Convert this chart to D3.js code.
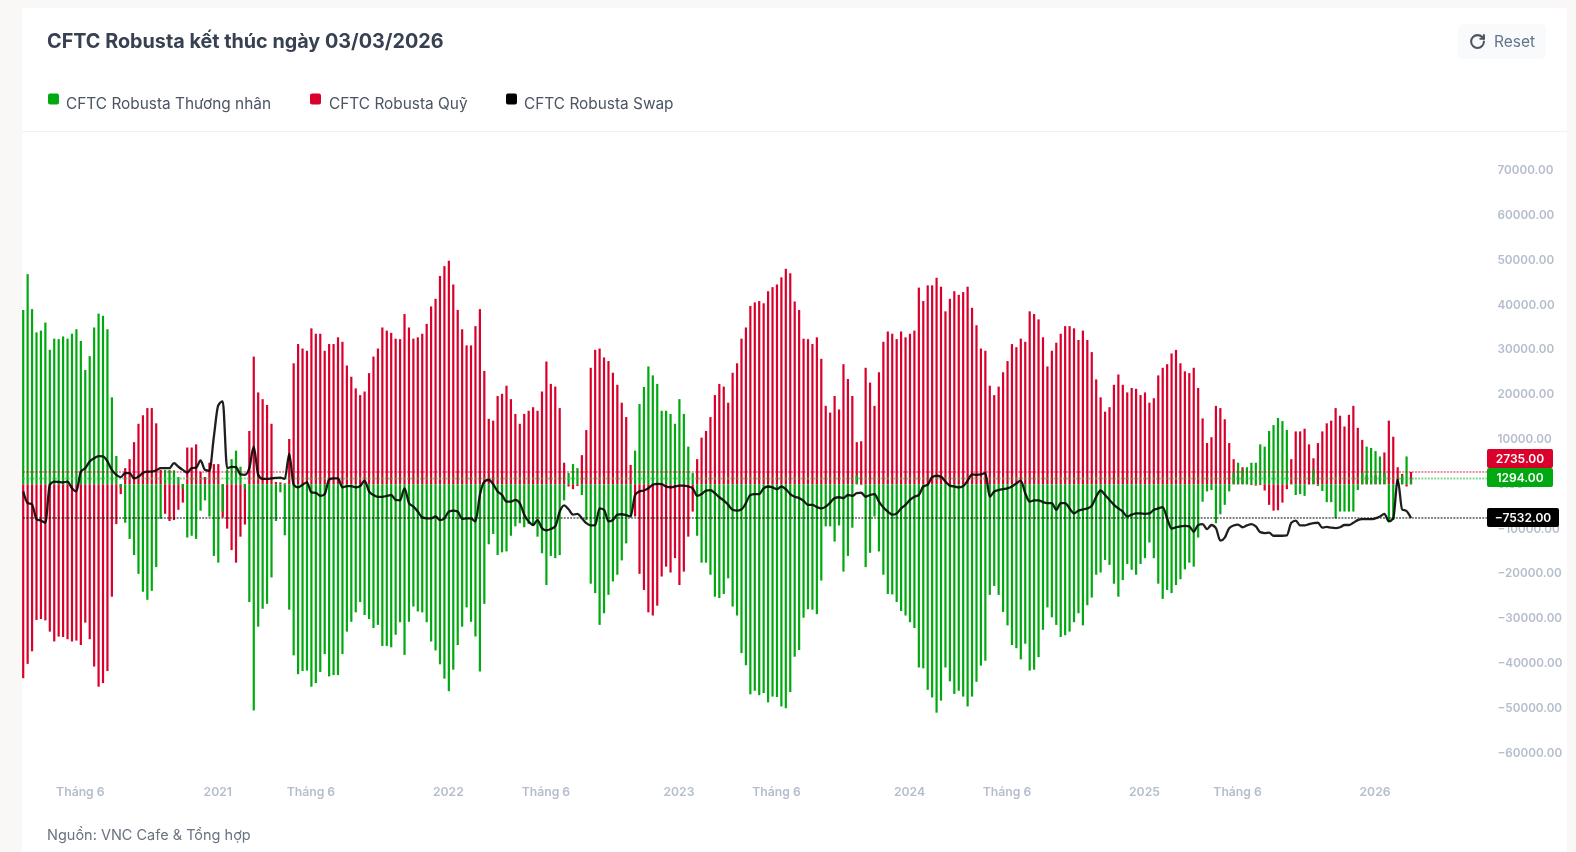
<!DOCTYPE html>
<html lang="vi">
<head>
<meta charset="utf-8">
<title>CFTC Robusta</title>
<script src="https://cdn.jsdelivr.net/npm/d3@7/dist/d3.min.js"></script>
<style>
html,body{margin:0;padding:0;background:#f9f8f6;overflow:hidden;}
svg{display:block;filter:blur(0.4px);}
text{font-family:Inter,"Noto Sans",sans-serif;}
</style>
</head>
<body>
<svg id="chart" width="1576" height="852"></svg>
<script>
const chartTitle = "CFTC Robusta kết thúc ngày 03/03/2026";
const sourceNote = "Nguồn: VNC Cafe & Tổng hợp";
const seriesNames = ["CFTC Robusta Thương nhân","CFTC Robusta Quỹ","CFTC Robusta Swap"];
const seriesColors = ["#00a90f","#d9002c","#000000"];
const firstDate = new Date(2020,2,3);
const yTicks = [70000,60000,50000,40000,30000,20000,10000,0,-10000,-20000,-30000,-40000,-50000,-60000];
const xTicks = [[2020,5,"Tháng 6"],[2021,0,"2021"],[2021,5,"Tháng 6"],[2022,0,"2022"],[2022,5,"Tháng 6"],[2023,0,"2023"],[2023,5,"Tháng 6"],[2024,0,"2024"],[2024,5,"Tháng 6"],[2025,0,"2025"],[2025,5,"Tháng 6"],[2026,0,"2026"]];

const commercial = [
38900,46900,39100,33900,34300,36100,30000,32500,32400,33000,32500,33600,34600,32000,25500,28600,35000,38100,37600,34600,19400,6300,-800,
-8600,-12200,-15800,-20000,-24000,-25800,-23800,-18500,-7700,3200,3200,3100,1600,-1000,-11900,-11500,-12200,-5900,-3600,-7200,-16000,-17500,-6100,3300,5600,7500,3900,-1100,
-26300,-50500,-31800,-27800,-26700,-20800,-8200,-1800,-11400,-28000,-38200,-42400,-41700,-41600,-45200,-44400,-41900,-37900,-42900,-42600,-42600,-37900,-32900,-30700,-28600,-26300,-29200,-30100,-32100,-31400,-36100,-36100,-36400,-33600,-30800,
-38100,-30700,-27300,-28400,-28600,-30800,-35100,-37100,-40200,-43400,-46200,-41400,-35900,-31800,-27500,-30700,-34000,-41800,-26700,-13400,-11100,-15800,-15200,-15000,-11500,-9400,-8700,-9600,-8900,-9100,-11700,-15400,-22500,-16000,-16500,-15800,-3600,
2500,4500,3600,-2400,-8000,-22200,-24300,-31400,-28800,-24700,-21700,-20200,-17000,-13200,-7200,
7500,17900,21700,26300,24300,22400,16400,16400,15700,13500,19000,15700,8400,2500,
-11500,-17500,-17500,-20200,-25100,-25400,-24500,-21000,-27300,-29300,-37700,-40400,-46900,-46100,-47100,-46600,-48700,-47400,-47500,-49600,-50000,-46400,-38500,-37000,
-29800,-27900,-28000,-29000,-21500,-9400,-9400,-12800,-9200,-19500,-16000,-9700,2000,-200,-18500,-15300,-7200,-15000,-20200,-24500,-24600,-26300,-28300,-29300,-30800,-32100,-40900,-41100,-45900,-47600,-51000,-48300,-40900,-44000,-46800,-46100,-47400,-49600,-47400,-44100,-40500,-39400,-24700,-22700,-24700,-28500,-31500,-35900,-36600,-39100,-35600,-41600,-41400,-38600,-32500,-27500,-29700,-31400,-34100,-33700,-32900,-30800,-28800,-31500,-27000,-25300,-20200,-19700,-16900,-18000,-22200,-25100,-21400,-17800,-19100,-20200,-17800,-16500,-13000,-16500,-22200,-25600,-23600,-24300,-22500,-21200,-19000,-17500,-18400,-11900,
-3900,-1600,-1300,-8700,-6700,-4600,-1600,2600,4800,3300,3800,4800,4800,8900,8400,11900,13200,14800,14100,12100,200,-2400,-2200,-2600,-100,3300,-400,-1500,-4000,-4000,-7600,-6100,-6100,-6100,-6100,-1300,2600,8400,8100,7400,6200,2600,-8300,-8000,1000,2000,6200,1294
];

const funds = [
-43300,-40100,-37300,-30300,-30100,-30400,-32900,-35100,-34000,-34100,-34600,-35100,-34900,-35900,-30900,-34600,-40700,-45200,-44400,-41700,-25100,-8900,-2200,
3600,5600,9400,13500,15400,17000,17000,13600,3200,-6600,-8200,-8000,-5700,-4100,8200,8200,8900,2800,1600,4800,4500,4500,-7400,-9900,-14700,-17500,-11700,-9000,
11900,28500,20500,19000,17700,13500,500,400,200,10100,27000,31300,30300,29800,34800,33600,33600,29800,31300,31300,32800,31800,26500,24000,21400,19900,20700,24800,28500,30300,35000,34300,33800,32500,32400,
38000,35000,32500,32800,33600,35800,39700,41400,46500,48700,49900,44600,38900,34600,31000,31000,35300,39100,25300,14600,14200,19700,20200,22000,19000,15700,13500,15700,16400,17200,16400,20700,27400,22400,21800,17000,4800,
-500,-1100,-400,6500,12100,26000,30000,30300,28300,27500,24900,22200,18200,15000,4300,
-7200,-20000,-23600,-28600,-29300,-27100,-20600,-18400,-19700,-16500,-22500,-19500,-11700,-6100,
5600,10400,11900,15000,19900,22400,21800,18200,24900,27000,32500,35000,39800,40600,40900,40400,43100,44000,44600,46200,48100,47100,40800,38900,
32500,32400,31300,32800,28000,17500,16000,19700,16700,26800,23500,19700,9400,9600,26000,22700,17500,25000,31800,34100,33600,32400,34100,32800,33600,34300,43900,40900,44400,44400,46100,44100,38600,41400,43100,42300,42900,44100,39400,35500,30300,29800,22000,19900,21800,25000,27500,31300,30600,32500,31800,38600,38000,36800,32800,26300,29800,31600,33600,35300,35300,34800,32200,34300,32200,29500,23400,19400,16200,17200,22200,24500,22200,20500,21500,21300,19900,20500,18200,19200,24300,26000,26800,29200,30000,27000,25200,24800,26000,21500,
14700,9200,10500,17500,17000,14500,9200,5600,1000,3800,1000,-200,-300,-200,-1400,-4600,-5900,-5800,-4100,-1100,5600,11800,11800,12400,8900,5800,9200,11800,13600,14200,17000,15300,12900,15500,17500,12600,9900,2000,2000,2000,2000,7100,14200,10600,3800,2300,-500,2735
];

const swap = [
-1600,-4200,-4500,-7800,-8100,-8600,-100,600,500,400,600,-900,-1600,2800,3600,5100,5800,6300,6200,5100,3200,2100,1600,2500,2500,1300,1700,2500,2800,2800,3100,3600,3600,3600,4700,3900,3200,2600,3600,3700,5300,3200,3000,10600,17600,18500,3600,3900,3800,2200,2100,3600,8400,2100,1200,1200,1300,1400,1500,1200,6800,-100,-700,-100,400,-1800,-1900,-2600,-2200,1100,1300,1300,-700,-400,-400,-700,-400,800,-1600,-2400,-2800,-2800,-2600,-2400,-3500,-3600,
-900,-4200,-5000,-6100,-7400,-7600,-7600,-7200,-8000,-7600,-6100,-5900,-6100,-7700,-7600,-7600,-8300,-2400,600,1000,0,-1600,-2400,-3900,-3900,-3500,-4200,-6800,-8300,-9100,-8000,-9800,-10300,-10000,-9400,-6100,-4700,-5600,-6800,-6600,-7600,-8700,-9200,-9100,-5400,-5700,-8300,-8000,-6800,-6700,-6900,-7200,-2400,-1600,-1400,-900,-100,100,0,-500,-700,-500,-300,-300,-500,-900,-2600,-2200,-1400,-1300,-2000,-2900,-3600,-4600,-5700,-5900,-5600,-4200,-2400,-2200,-2200,-900,-500,-700,-1100,-500,-1100,-2200,-2800,-3100,
-3700,-4600,-4600,-5100,-5400,-5000,-4100,-3100,-2900,-3100,-2400,-2600,-2000,-1900,-2800,-2400,-2200,-3900,-5200,-6100,-6800,-6500,-5400,-4600,-3500,-2800,-2400,-500,-100,1600,1900,1700,600,-300,-500,-700,-400,800,2200,2100,2200,2500,-2800,-1600,-1300,-1100,-900,-500,200,800,-2000,-3900,-3600,-3600,-4000,-4200,-4200,-5700,-4200,-4200,-5400,-6500,-5900,-5600,-5400,-4800,-2800,-1400,-2400,-3500,-4600,-5400,-6100,-7200,-6800,-6500,-6500,-6600,-6500,-5700,-5400,-5100,-7600,-9900,-9600,-9400,-9300,-9400,-10600,-9100,
-8900,-10000,-9100,-9800,-12600,-11900,-9800,-9200,-9000,-9600,-9200,-8900,-9400,-10700,-10900,-10800,-11500,-11500,-11500,-11400,-8600,-8100,-9200,-9200,-8900,-8700,-8600,-9700,-9500,-9700,-9800,-9600,-9100,-9100,-8600,-8000,-7800,-7800,-7800,-7600,-7200,-6600,-8300,-7600,1000,-5600,-6000,-7532
];

const n = Math.max(commercial.length, funds.length, swap.length);
const dates = d3.range(n).map(i => d3.timeDay.offset(firstDate, i * 7));
const lastDate = dates[n - 1];

const svg = d3.select("#chart");
const x = d3.scaleTime().domain([firstDate, lastDate]).range([23.2, 1411]);
const y = d3.scaleLinear().domain([-60000, 70000]).range([753, 170.7]);

// card
svg.append("rect").attr("x",22).attr("y",8).attr("width",1545).attr("height",844).attr("fill","#fff");
svg.append("line").attr("x1",22).attr("x2",1567).attr("y1",131.5).attr("y2",131.5).attr("stroke","#eef0f3");

// header
svg.append("text").text(chartTitle).attr("x",47).attr("y",48).attr("font-size",19.8).attr("font-weight",700).attr("fill","#374151");
const legendX = [[48,66],[310,329],[506,524]];
seriesNames.forEach((name,i)=>{
  svg.append("rect").attr("x",legendX[i][0]).attr("y",93.5).attr("width",11).attr("height",11).attr("rx",2).attr("fill",seriesColors[i]);
  svg.append("text").text(name).attr("x",legendX[i][1]).attr("y",109).attr("font-size",15.4).attr("fill","#4b5563");
});

// reset button
const btn = svg.append("g");
btn.append("rect").attr("x",1458).attr("y",24).attr("width",88).attr("height",35).attr("rx",5).attr("fill","#f8fafc");
const icon = btn.append("g").attr("transform","translate(1469,33) scale(0.71)").attr("fill","none").attr("stroke","#4b5563").attr("stroke-width",2.9).attr("stroke-linecap","round").attr("stroke-linejoin","round");
icon.append("path").attr("d","M21 12a9 9 0 1 1-9-9c2.52 0 4.93 1 6.74 2.74L21 8");
icon.append("path").attr("d","M21 3v5h-5");
btn.append("text").text("Reset").attr("x",1494).attr("y",47).attr("font-size",15.5).attr("fill","#64748b");

// y axis
const yAxis = d3.axisRight(y).tickValues(yTicks).tickSize(0).tickPadding(0).tickFormat(d3.format(".2f"));
const yG = svg.append("g").attr("transform","translate(1497.5,-0.7)").call(yAxis);
yG.select(".domain").remove();
yG.selectAll("text").attr("text-anchor","start").attr("font-family","Inter").attr("font-size",11.7).attr("font-weight",600).attr("fill","#b4bdcc");

// x axis: each label sits on the first weekly bar of its month
const firstBarOfMonth = d => dates.find(t => t >= new Date(d[0],d[1],1));
const xAxis = d3.axisBottom(x).tickValues(xTicks.map(firstBarOfMonth)).tickSize(0).tickPadding(0)
  .tickFormat((d,i)=>xTicks[i][2]);
const xG = svg.append("g").attr("transform","translate(-1,787.7)").call(xAxis);
xG.select(".domain").remove();
xG.selectAll("text").attr("font-family","Inter").attr("font-size",12.2).attr("font-weight",600).attr("fill","#b4bdcc");

// bars
const bw = 2.2;
function bars(values,color){
  svg.append("g").attr("fill",color).selectAll("rect").data(values).join("rect")
    .attr("x",(d,i)=>x(dates[i])-bw/2)
    .attr("width",bw)
    .attr("y",d=>Math.min(y(0),y(d)))
    .attr("height",d=>Math.abs(y(d)-y(0)));
}
bars(funds,seriesColors[1]);
bars(commercial,seriesColors[0]);

// last value lines
const lastValues = [funds[n-1],commercial[n-1],swap[n-1]];
const lastColors = [seriesColors[1],"#39c04a","#000"];
const lastOpacity = [.9,.6,.95];
const lastWidth = [1,2,1];
lastValues.forEach((v,i)=>{
  svg.append("line").attr("x1",23).attr("x2",1487).attr("y1",y(v)).attr("y2",y(v))
    .attr("stroke",lastColors[i]).attr("stroke-opacity",lastOpacity[i]).attr("stroke-width",lastWidth[i]).attr("stroke-dasharray","2,1.2");
});

// swap line
svg.append("path").datum(swap)
  .attr("fill","none").attr("stroke","#000").attr("stroke-opacity",.88).attr("stroke-width",2.3).attr("stroke-linejoin","round")
  .attr("d",d3.line().x((d,i)=>x(dates[i])).y(d=>y(d)).curve(d3.curveMonotoneX));

// last value labels
const labelBoxes = [
  {v:funds[n-1],c:"#d9002c",w:66,off:-13.5},
  {v:commercial[n-1],c:"#00a90f",w:66,off:-1},
  {v:swap[n-1],c:"#000",w:72,off:-0.5}
];
labelBoxes.forEach(l=>{
  const cy = y(l.v)+l.off;
  svg.append("rect").attr("x",1487).attr("y",cy-9.5).attr("width",l.w).attr("height",19).attr("rx",2).attr("fill",l.c);
  svg.append("text").text(d3.format(".2f")(l.v)).attr("x",1487+l.w/2).attr("y",cy+4.3).attr("text-anchor","middle").attr("font-size",12).attr("font-weight",600).attr("fill","#fff");
});

// source
svg.append("text").text(sourceNote).attr("x",47).attr("y",840).attr("font-size",14.5).attr("fill","#6b7280");
</script>
</body>
</html>
